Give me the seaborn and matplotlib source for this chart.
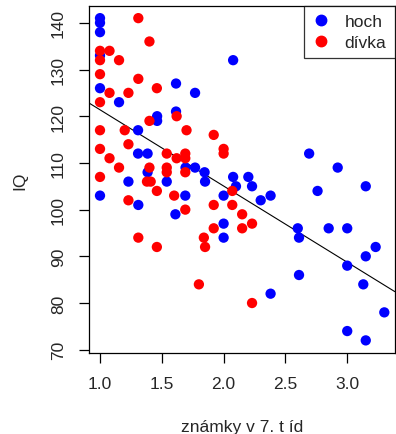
import numpy as np
import pandas as pd
import matplotlib
matplotlib.use("Agg")
import matplotlib.pyplot as plt
import seaborn as sns

# znamky (x) a IQ (y)
hoch_znamky = [1.0, 1.0, 1.0, 1.0, 1.0, 1.154, 1.615, 1.769, 1.462, 1.462,
               1.615, 1.308, 1.308, 1.385, 1.385, 1.692, 1.769, 1.846, 2.077, 2.692,
               2.923, 2.077, 2.20, 2.10, 2.23, 2.0, 2.30, 2.38, 2.76, 3.15,
               2.0, 2.0, 2.60, 2.61, 2.85, 3.0, 3.23, 3.15, 3.0, 2.61,
               3.13, 2.38, 3.30, 3.0, 3.15, 1.23, 1.54, 1.85, 1.0, 1.69,
               1.31, 1.61]
hoch_iq = [141, 140, 138, 133, 126, 123, 127, 125, 120, 119,
           121, 117, 112, 112, 108, 109, 109, 108, 132, 112,
           109, 107, 107, 105, 105, 103, 102, 103, 104, 105,
           97, 94, 96, 94, 96, 96, 92, 90, 88, 86,
           84, 82, 78, 74, 72, 106, 106, 106, 103, 103,
           101, 99]

divka_znamky = [1.31, 1.40, 1.0, 1.077, 1.0, 1.154, 1.0, 1.31, 1.46, 1.077,
                1.23, 1.0, 1.62, 1.40, 1.0, 1.20, 1.70, 1.92, 1.23, 1.0,
                1.077, 1.54, 1.69, 1.69, 1.62, 2.0, 2.0, 1.154, 1.40, 1.54,
                1.54, 1.69, 1.0, 1.38, 1.41, 1.46, 1.60, 1.23, 1.92, 1.69,
                1.92, 1.31, 1.84, 1.85, 1.46, 1.80, 2.07, 2.07, 2.15, 2.23,
                2.15, 2.23]
divka_iq = [141, 136, 134, 134, 132, 132, 129, 128, 126, 125,
            125, 123, 120, 119, 117, 117, 117, 116, 114, 113,
            111, 112, 112, 111, 111, 113, 112, 109, 109, 109,
            108, 108, 107, 106, 106, 104, 103, 102, 101, 100,
            96, 94, 94, 92, 92, 84, 104, 101, 99, 97,
            96, 80]

pohlavi = ["hoch", "dívka"]
barvy = {"hoch": "#0000FF", "dívka": "#FF0000"}

df = pd.DataFrame({
    "znamky": hoch_znamky + divka_znamky,
    "IQ": hoch_iq + divka_iq,
    "pohlavi": ["hoch"] * len(hoch_znamky) + ["dívka"] * len(divka_znamky),
})

sns.set_style("white")
plt.rcParams["font.family"] = ["Liberation Sans", "DejaVu Sans"]
fs = 12.5
plt.rcParams["font.size"] = fs

fig = plt.figure(figsize=(3.96, 4.35), dpi=100)
ax = fig.add_axes([89 / 396, 1 - 354 / 435, 1 - 89 / 396 - 0.003, (354 - 7) / 435])

ax.set_xlim(0.911, 3.385)
ax.set_ylim(69.3, 143.6)

sns.scatterplot(data=df, x="znamky", y="IQ", hue="pohlavi", palette=barvy,
                hue_order=pohlavi, s=55, linewidth=0, ax=ax, legend=False, zorder=3)

# regresni primka pres vsechna data
sns.regplot(data=df, x="znamky", y="IQ", scatter=False, ci=None, truncate=False,
            line_kws={"color": "black", "lw": 0.8}, ax=ax)
ax.set_xlim(0.911, 3.385)

for sp in ax.spines.values():
    sp.set_color("black")
    sp.set_linewidth(0.9)
    sp.set_visible(True)

ax.set_xticks([1.0, 1.5, 2.0, 2.5, 3.0])
ax.set_xticklabels(["1.0", "1.5", "2.0", "2.5", "3.0"])
ax.set_yticks([70, 80, 90, 100, 110, 120, 130, 140])
ax.tick_params(axis="both", direction="out", length=7.5, width=0.9, color="black",
               labelsize=fs, bottom=True, left=True)
ax.tick_params(axis="x", pad=9)
ax.tick_params(axis="y", pad=9, labelrotation=90)
for lab in ax.get_yticklabels():
    lab.set_va("center")

ax.set_xlabel("známky v 7. t íd", fontsize=fs, labelpad=20)
ax.set_ylabel("IQ", fontsize=fs, labelpad=17)

handles = [plt.Line2D([], [], marker="o", ls="", color=barvy[p], markersize=7.5) for p in pohlavi]
leg = ax.legend(handles, pohlavi, loc="upper right", frameon=True, fancybox=False,
                borderaxespad=0, handletextpad=0.9, borderpad=0.48, labelspacing=0.3,
                fontsize=fs, handlelength=0.95)
leg.get_frame().set_edgecolor("black")
leg.get_frame().set_linewidth(0.9)

fig.savefig("out.png", dpi=100)
